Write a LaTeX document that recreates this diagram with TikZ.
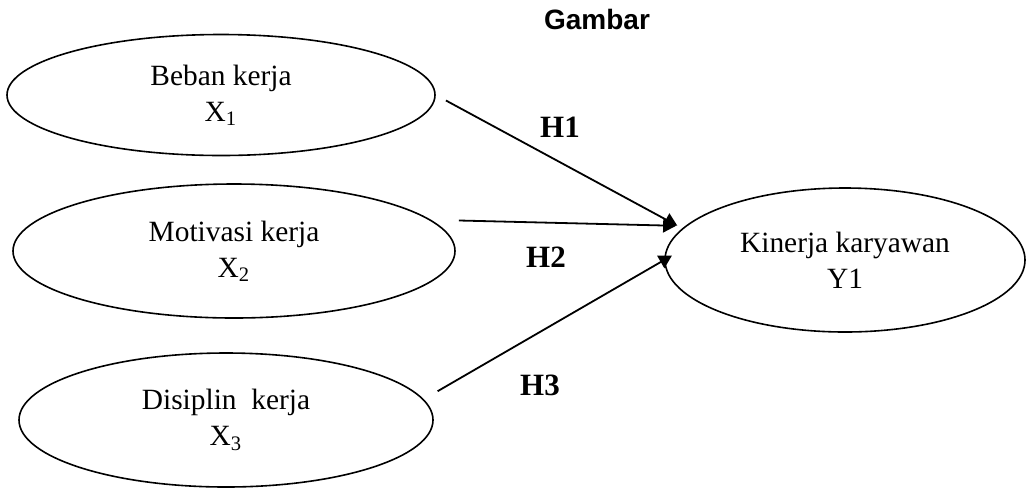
\documentclass[tikz,border=0pt]{standalone}
\usepackage{fontspec}
\setmainfont{Liberation Serif}
\newfontfamily\headfont{Liberation Sans}
\usetikzlibrary{shapes.geometric,arrows.meta}

\begin{document}
\begin{tikzpicture}[x=.5pt,y=-.5pt,
  var/.style={draw,ellipse,line width=.8pt,inner sep=0pt,align=center,
    font=\fontsize{14.7}{18}\selectfont},
  arr/.style={-{Triangle[length=6.5pt,width=7pt]},line width=.9pt},
  hyp/.style={font=\fontsize{15.5}{18}\selectfont\bfseries}]
 \useasboundingbox (0,0) rectangle (1026,488);
 \node[font=\headfont\fontsize{14}{16}\selectfont\bfseries] (judul) at (597,19) {Gambar};
 % variabel
 \node[var,minimum width=214pt,minimum height=60.5pt] (x1) at (221,95) {Beban kerja\\X\textsubscript{1}};
 \node[var,minimum width=221pt,minimum height=67pt] (x2) at (234,251) {Motivasi kerja\\X\textsubscript{2}};
 \node[var,minimum width=207pt,minimum height=67pt] (x3) at (226,420) {Disiplin~ kerja\\X\textsubscript{3}};
 \node[var,minimum width=180pt,minimum height=72pt] (y1) at (845,260) {Kinerja karyawan\\Y1};
 % hipotesis
 \draw[arr,shorten <=5.75pt,shorten >=2.75pt] (x1.east) -- (y1.169.45);
 \draw[arr,shorten <=14pt,shorten >=4.5pt] (x2.9.6) -- (y1.168);
 \draw[arr,shorten <=8pt,shorten >=-4.5pt] (x3.6.5) -- (y1.180.8);
 \node[hyp] (h1) at (560,127) {H1};
 \node[hyp] (h2) at (546,257) {H2};
 \node[hyp] (h3) at (540,385) {H3};
\end{tikzpicture}
\end{document}
